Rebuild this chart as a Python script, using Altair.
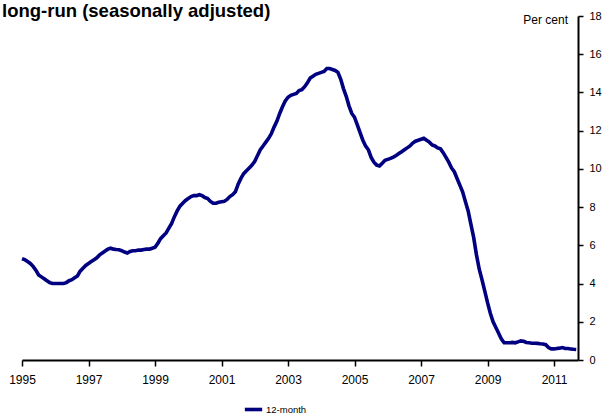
import altair as alt
import pandas as pd

TITLE = "long-run (seasonally adjusted)"
UNIT = "Per cent"
SERIES = "12-month"
START_YEAR = 1995

# monthly values, Jan 1995 .. Sep 2011
v1995 = [5.3, 5.25, 5.15, 5.05, 4.9, 4.7, 4.45, 4.35, 4.25, 4.15, 4.05, 4.0]
v1996 = [4.0, 4.0, 4.0, 4.0, 4.05, 4.15, 4.2, 4.3, 4.4, 4.65, 4.8, 4.95]
v1997 = [5.05, 5.15, 5.25, 5.35, 5.5, 5.6, 5.7, 5.8, 5.85, 5.8, 5.78, 5.77]
v1998 = [5.72, 5.65, 5.6, 5.68, 5.72, 5.72, 5.75, 5.75, 5.78, 5.8, 5.8, 5.85]
v1999 = [5.9, 6.1, 6.35, 6.5, 6.65, 6.9, 7.15, 7.5, 7.8, 8.05, 8.2, 8.35]
v2000 = [8.45, 8.55, 8.6, 8.6, 8.65, 8.6, 8.5, 8.45, 8.3, 8.2, 8.2, 8.25]
v2001 = [8.28, 8.3, 8.4, 8.55, 8.65, 8.8, 9.2, 9.5, 9.75, 9.9, 10.05, 10.2]
v2002 = [10.4, 10.7, 11.0, 11.2, 11.4, 11.6, 11.85, 12.2, 12.5, 12.9, 13.25, 13.55]
v2003 = [13.75, 13.85, 13.9, 13.95, 14.1, 14.15, 14.3, 14.5, 14.75, 14.85, 14.95, 15.0]
v2004 = [15.05, 15.1, 15.25, 15.25, 15.2, 15.15, 15.05, 14.7, 14.2, 13.8, 13.3, 12.9]
v2005 = [12.7, 12.3, 11.9, 11.5, 11.2, 11.0, 10.6, 10.35, 10.2, 10.15, 10.3, 10.45]
v2006 = [10.5, 10.55, 10.62, 10.7, 10.8, 10.9, 11.0, 11.1, 11.2, 11.35, 11.45, 11.5]
v2007 = [11.55, 11.6, 11.5, 11.4, 11.25, 11.2, 11.1, 11.05, 10.85, 10.6, 10.35, 10.05]
v2008 = [9.85, 9.5, 9.15, 8.8, 8.3, 7.8, 7.1, 6.4, 5.5, 4.75, 4.2, 3.6]
v2009 = [3.0, 2.45, 2.0, 1.7, 1.4, 1.1, 0.9, 0.9, 0.9, 0.92, 0.9, 0.95]
v2010 = [1.0, 0.98, 0.92, 0.9, 0.88, 0.88, 0.87, 0.85, 0.84, 0.8, 0.65, 0.58]
v2011 = [0.58, 0.6, 0.62, 0.65, 0.6, 0.6, 0.58, 0.56, 0.55]

YEAR_TICKS = [1995, 1997, 1999, 2001, 2003, 2005, 2007, 2009, 2011]
Y_TICKS = [0, 2, 4, 6, 8, 10, 12, 14, 16, 18]

values = (v1995 + v1996 + v1997 + v1998 + v1999 + v2000 + v2001 + v2002 +
          v2003 + v2004 + v2005 + v2006 + v2007 + v2008 + v2009 + v2010 + v2011)
years = [START_YEAR + i / 12 for i in range(len(values))]
df = pd.DataFrame({"t": years, "v": values, "series": SERIES})

FONT = "Liberation Sans"

line = alt.Chart(df).mark_line(strokeWidth=3.6, color="#000080").encode(
    x=alt.X("t:Q",
            scale=alt.Scale(domain=[1995, 2011.72], nice=False, zero=False),
            axis=alt.Axis(values=YEAR_TICKS, format="d", title=None, grid=False,
                          labelFlush=False, labelOverlap=False,
                          domainColor="black", domainWidth=2, tickColor="black",
                          tickWidth=1.5, tickSize=6, labelPadding=8,
                          labelFontSize=12, labelColor="black", labelFont=FONT)),
    y=alt.Y("v:Q",
            scale=alt.Scale(domain=[0, 18], nice=False),
            axis=alt.Axis(orient="right", values=Y_TICKS, title=None, grid=False,
                          labelFlush=False, labelOverlap=False,
                          domainColor="black", domainWidth=2, tickColor="black",
                          tickWidth=1.5, tickSize=5, labelPadding=6,
                          labelFontSize=11, labelColor="black", labelFont=FONT)),
    color=alt.Color("series:N", scale=alt.Scale(range=["#000080"]),
                    legend=alt.Legend(orient="none", legendX=221, legendY=383,
                                      title=None, symbolType="stroke",
                                      symbolStrokeWidth=3.6, symbolSize=300,
                                      labelFontSize=9.5, labelFont=FONT,
                                      labelColor="black", labelOffset=2)),
)

title_df = pd.DataFrame({"label": [TITLE]})
title = alt.Chart(title_df).mark_text(
    align="left", baseline="alphabetic", fontSize=18.5, fontWeight="bold",
    font=FONT, color="black"
).encode(x=alt.value(-20), y=alt.value(1), text="label:N")

unit_df = pd.DataFrame({"label": [UNIT]})
unit = alt.Chart(unit_df).mark_text(
    align="right", baseline="middle", fontSize=12, font=FONT, color="black"
).encode(x=alt.value(546), y=alt.value(4), text="label:N")

chart = alt.layer(line, title, unit).properties(
    width=556, height=344,
    padding={"left": 22, "top": 16, "right": 26, "bottom": 59},
    autosize=alt.AutoSizeParams(type="none"),
).configure_view(stroke=None)

chart.save("out.html", embed_options={"renderer": "svg", "actions": False})
